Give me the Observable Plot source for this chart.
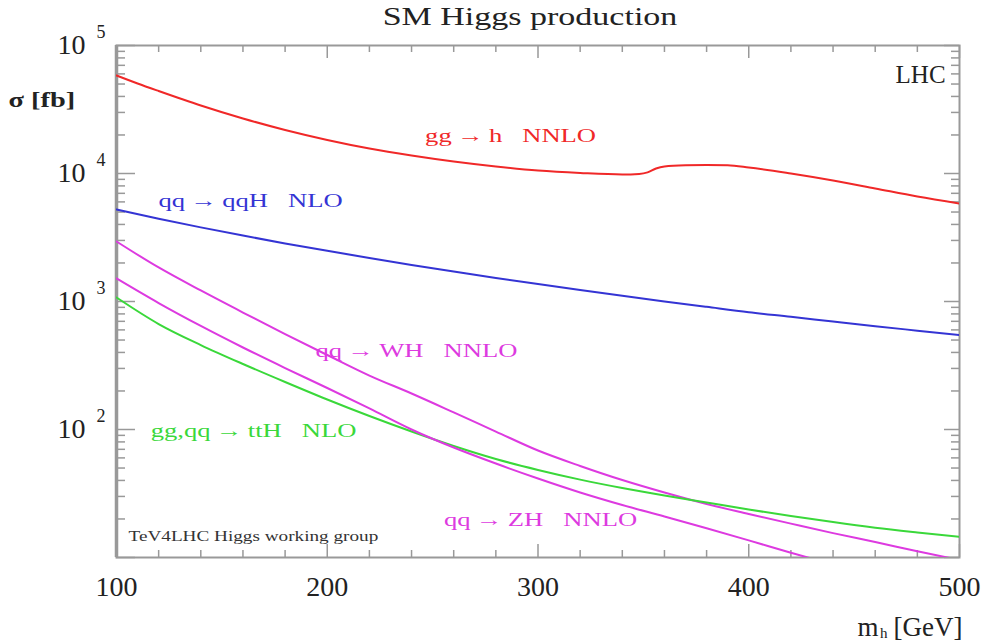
<!DOCTYPE html>
<html><head><meta charset="utf-8">
<script src="https://cdn.jsdelivr.net/npm/d3@7"></script>
<script src="https://cdn.jsdelivr.net/npm/@observablehq/plot@0.6"></script>
<style>
body{margin:0;background:#fff;font-family:"Liberation Serif","Times New Roman",serif;}
#title{height:36px;position:relative;width:983px;}
#title span{position:absolute;left:530px;top:3px;transform:translateX(-50%) scaleX(1.36);font-size:25px;color:#222;white-space:nowrap;}
</style></head><body>
<div id="title"><span>SM Higgs production</span></div>
<div id="chart"></div>
<script>
// ---- data ----
const ggMass  = [100,110,120,140,160,180,200,220,240,260,280,300,320,340,348,352,356,360,370,380,390,400,420,440,460,480,500];
const ggSigma = [58300,50500,44100,33980,26900,21880,18290,15680,13830,12410,11350,10550,10090,9820,9910,10200,10950,11350,11590,11650,11590,11150,10000,8820,7640,6610,5830];

const mass = [100,120,140,160,180,200,220,240,260,280,300,320,340,360,380,400,420,440,460,480,500];
const qqHSigma = [5236,4436,3793,3273,2844,2489,2188,1932,1714,1528,1368,1230,1109,1002,908,824,759,697,641,592,547];
const WHSigma  = [2944,1845,1219,820,557,382,264,191,136,96.4,68.5,51.9,40.3,32.2,26.2,21.9,18.4,15.5,13.2,11.2,9.55];
const ttHSigma = [1075,667,457,325,235,171.5,127.4,96.4,74.3,58.8,48.3,40.6,34.9,30.5,26.9,23.7,21.1,18.9,17.1,15.7,14.5];
const ZHMass  = [100,120,140,160,180,200,220,240,260,280,300,320,340,360,380,400,420,440];
const ZHSigma = [1513,972,644,437,302,211,146,100,72.3,54.2,41.4,32.2,25.7,20.9,16.9,13.6,10.9,8.8];

const xMajor = [100,200,300,400,500];
const xMinor = [120,140,160,180,220,240,260,280,320,340,360,380,420,440,460,480];
const yMajor = [1e1,1e2,1e3,1e4,1e5];
const yLabeled = [1e2,1e3,1e4,1e5];
const yMinor = [1,2,3,4].flatMap(k => [2,3,4,5,6,7,8,9].map(m => m*Math.pow(10,k)));

const RED="#f02828", BLUE="#3434d4", MAG="#dd3ae0", GREEN="#3ad83a";
const curveLabels = [
  {t:"gg\u2009\u2192\u2009h\u00a0\u00a0\u00a0NNLO", m:287, s:19800, c:RED},
  {t:"qq\u2009\u2192\u2009qqH\u00a0\u00a0\u00a0NLO", m:163.6, s:6150, c:BLUE},
  {t:"qq\u2009\u2192\u2009WH\u00a0\u00a0\u00a0NNLO", m:242.3, s:414, c:MAG},
  {t:"gg,qq\u2009\u2192\u2009ttH\u00a0\u00a0\u00a0NLO", m:165, s:98, c:GREEN},
  {t:"qq\u2009\u2192\u2009ZH\u00a0\u00a0\u00a0NNLO", m:301.2, s:19.5, c:MAG}
];

// ---- layout ----
const W=983, H=607, ML=116, MR=24, MT=9, MB=86;
const FW=W-ML-MR, FH=H-MT-MB;
const GREY="#999";
const serif="Liberation Serif, Times New Roman, serif";

const series = (ms, ss) => ms.map((m,i)=>({m, s:ss[i]}));
const lineOpts = (c) => ({x:"m", y:"s", stroke:c, strokeWidth:2, curve:"monotone-x", clip:true});

const chart = Plot.plot({
  width:W, height:H, marginLeft:ML, marginRight:MR, marginTop:MT, marginBottom:MB,
  x:{domain:[100,500], axis:null},
  y:{type:"log", domain:[10,1e5], axis:null},
  style:{fontFamily:serif, background:"white", overflow:"visible"},
  marks:[
    Plot.ruleX(xMinor, {x:d=>d, insetTop:FH-7, stroke:GREY, strokeWidth:1.5}),
    Plot.ruleX(xMajor, {x:d=>d, insetTop:FH-13, stroke:GREY, strokeWidth:1.5}),
    Plot.ruleX(xMinor, {x:d=>d, insetBottom:FH-7, stroke:GREY, strokeWidth:1.5}),
    Plot.ruleX(xMajor, {x:d=>d, insetBottom:FH-13, stroke:GREY, strokeWidth:1.5}),
    Plot.ruleY(yMinor, {y:d=>d, insetRight:FW-9, stroke:GREY, strokeWidth:1.5}),
    Plot.ruleY(yMajor, {y:d=>d, insetRight:FW-19, stroke:GREY, strokeWidth:1.5}),
    Plot.ruleY(yMinor, {y:d=>d, insetLeft:FW-8, stroke:GREY, strokeWidth:1.5}),
    Plot.ruleY(yMajor, {y:d=>d, insetLeft:FW-15, stroke:GREY, strokeWidth:1.5}),
    Plot.frame({stroke:GREY, strokeWidth:2}),
    Plot.ruleX([100], {x:d=>d, stroke:GREY, strokeWidth:3.5}),
    Plot.line(series(ggMass, ggSigma), lineOpts(RED)),
    Plot.line(series(mass, qqHSigma), lineOpts(BLUE)),
    Plot.line(series(mass, WHSigma), lineOpts(MAG)),
    Plot.line(series(mass, ttHSigma), lineOpts(GREEN)),
    Plot.line(series(ZHMass, ZHSigma), lineOpts(MAG)),
    Plot.text(curveLabels, {x:"m", y:"s", text:"t", fill:d=>d.c, fontSize:19, textAnchor:"middle", lineAnchor:"middle"}),
    Plot.text(["LHC"], {x:()=>493.4, y:()=>58300, text:d=>d, fontSize:25, fill:"#222", textAnchor:"end", lineAnchor:"middle"}),
    Plot.text(["TeV4LHC Higgs working group"], {x:()=>105.7, y:()=>14.6, text:d=>d, fontSize:15, fill:"#333", textAnchor:"start", lineAnchor:"middle"}),
    Plot.text(yLabeled, {y:d=>d, frameAnchor:"left", text:()=>"10", dx:-31, fontSize:28, fill:"#222", textAnchor:"end", lineAnchor:"middle"}),
    Plot.text(yLabeled, {y:d=>d, frameAnchor:"left", text:d=>String(Math.round(Math.log10(d))), dx:-20, dy:-13, fontSize:18, fill:"#222", textAnchor:"start", lineAnchor:"middle"}),
    Plot.text(xMajor, {x:d=>d, frameAnchor:"bottom", text:d=>String(d), dy:30, fontSize:28, fill:"#222", textAnchor:"middle", lineAnchor:"middle"}),
    Plot.text(["\u03c3 [fb]"], {frameAnchor:"top-left", text:d=>d, dx:-108, dy:55, fontSize:21, fontWeight:"bold", fill:"#222", textAnchor:"start", lineAnchor:"middle"}),
    Plot.text(["[GeV]"], {frameAnchor:"bottom-right", text:d=>d, dx:3, dy:70, fontSize:27, fill:"#222", textAnchor:"end", lineAnchor:"middle"}),
    Plot.text(["h"], {frameAnchor:"bottom-right", text:d=>d, dx:-72, dy:76, fontSize:15, fill:"#222", textAnchor:"end", lineAnchor:"middle"}),
    Plot.text(["m"], {frameAnchor:"bottom-right", text:d=>d, dx:-81, dy:70, fontSize:27, fill:"#222", textAnchor:"end", lineAnchor:"middle"})
  ]
});
document.getElementById("chart").appendChild(chart);

// horizontal stretch of the label glyphs, as in the reference typesetting
const stretch = new Map([
  ...curveLabels.map(d => [d.t, 1.4]),
  ["TeV4LHC Higgs working group", 1.28],
  ["\u03c3 [fb]", 1.35]
]);
d3.select(chart).selectAll("text").each(function() {
  const f = stretch.get(this.textContent);
  if (f) {
    const len = this.getComputedTextLength();
    this.setAttribute("textLength", (len * f).toFixed(1));
    this.setAttribute("lengthAdjust", "spacingAndGlyphs");
  }
});
</script>
</body></html>
